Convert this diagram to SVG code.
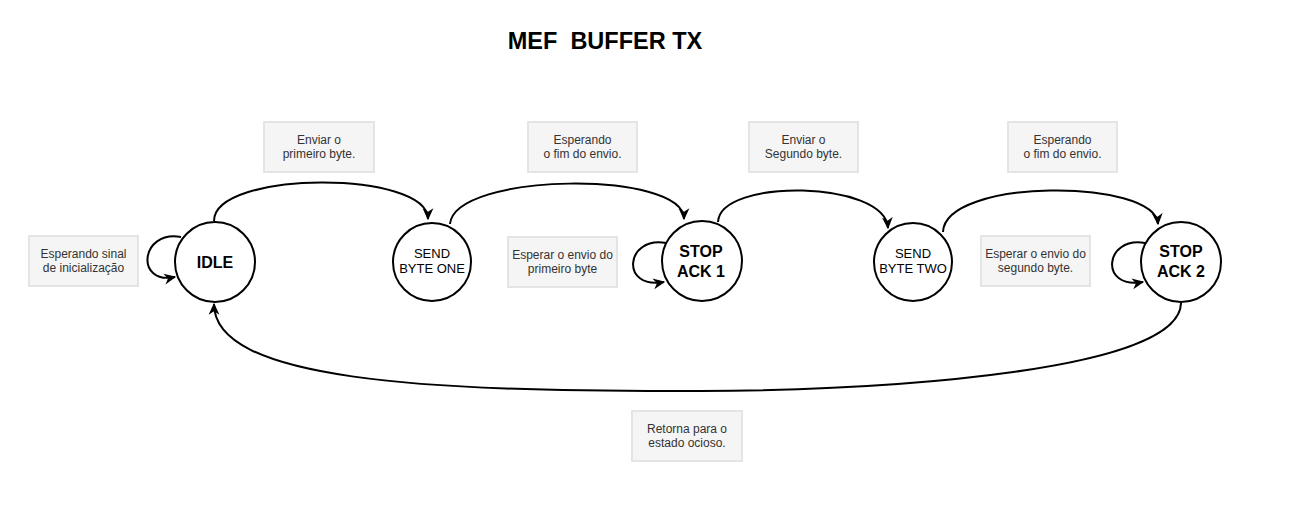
<svg xmlns="http://www.w3.org/2000/svg" width="1294" height="530" viewBox="0 0 1294 530">
  <style>
    .state { fill: #ffffff; stroke: #000000; stroke-width: 2; }
    .lbl { fill: #f5f5f5; stroke: #e4e4e4; stroke-width: 2; }
    .lt { font-family: "Liberation Sans", Arial, sans-serif; font-size: 12px; fill: #333333; text-anchor: middle; }
    .st { font-family: "Liberation Sans", Arial, sans-serif; font-size: 16px; font-weight: bold; fill: #000000; text-anchor: middle; }
    .sn { font-family: "Liberation Sans", Arial, sans-serif; font-size: 13px; fill: #000000; text-anchor: middle; }
    .edge { fill: none; stroke: #000000; stroke-width: 2; marker-end: url(#arr); }
    .title { font-family: "Liberation Sans", Arial, sans-serif; font-size: 23.5px; font-weight: bold; fill: #000000; text-anchor: middle; }
  </style>
  <defs>
    <marker id="arr" viewBox="0 0 10 10" refX="9" refY="5" markerWidth="12" markerHeight="12" markerUnits="userSpaceOnUse" orient="auto">
      <path d="M0,0.5 L10,5 L0,9.5 L3,5 z" fill="#000000"/>
    </marker>
  </defs>
  <rect width="1294" height="530" fill="#ffffff"/>

  <text class="title" x="605" y="49" xml:space="preserve">MEF  BUFFER TX</text>

  <g id="connectors">
    <path class="edge" d="M181,237 C140,230 135,285 175,277"/>
    <path class="edge" d="M214,221 C214,170 428,170 428,219"/>
    <path class="edge" d="M450,224 C455,172 684,170 684,219"/>
    <path class="edge" d="M718,222 C720,178 885,180 888,228"/>
    <path class="edge" d="M943,232 C945,178 1155,178 1158,224"/>
    <path class="edge" d="M666,243 C625,236 620,290 664,282"/>
    <path class="edge" d="M1145,243 C1104,236 1099,290 1143,282"/>
    <path class="edge" d="M1181,303 C1180,370 900,390 700,391 C420,392 214,380 214,304"/>
  </g>

  <g id="idle">
    <circle class="state" cx="215" cy="262" r="40"/>
    <text class="st" x="215" y="268">IDLE</text>
  </g>
  <g id="send-byte-one">
    <circle class="state" cx="432" cy="262" r="39"/>
    <text class="sn" x="432" y="258">SEND</text>
    <text class="sn" x="432" y="273">BYTE ONE</text>
  </g>
  <g id="stop-ack-1">
    <circle class="state" cx="702" cy="261" r="40"/>
    <text class="st" x="701" y="257">STOP</text>
    <text class="st" x="701" y="277">ACK 1</text>
  </g>
  <g id="send-byte-two">
    <circle class="state" cx="913" cy="262" r="39"/>
    <text class="sn" x="913" y="258">SEND</text>
    <text class="sn" x="913" y="273">BYTE TWO</text>
  </g>
  <g id="stop-ack-2">
    <circle class="state" cx="1181" cy="262" r="40"/>
    <text class="st" x="1181" y="257">STOP</text>
    <text class="st" x="1181" y="277">ACK 2</text>
  </g>

  <g id="label-init">
    <rect class="lbl" x="29" y="236" width="109" height="50"/>
    <text class="lt" x="83.5" y="258">Esperando sinal</text>
    <text class="lt" x="83.5" y="272">de inicialização</text>
  </g>
  <g id="label-enviar-1">
    <rect class="lbl" x="264" y="122" width="110" height="50"/>
    <text class="lt" x="319" y="144">Enviar o</text>
    <text class="lt" x="319" y="158">primeiro byte.</text>
  </g>
  <g id="label-esperando-1">
    <rect class="lbl" x="528" y="122" width="109" height="50"/>
    <text class="lt" x="582.5" y="144">Esperando</text>
    <text class="lt" x="582.5" y="158">o fim do envio.</text>
  </g>
  <g id="label-esperar-1">
    <rect class="lbl" x="508" y="237" width="109" height="50"/>
    <text class="lt" x="562.5" y="259">Esperar o envio do</text>
    <text class="lt" x="562.5" y="273">primeiro byte</text>
  </g>
  <g id="label-enviar-2">
    <rect class="lbl" x="749" y="122" width="109" height="50"/>
    <text class="lt" x="803.5" y="144">Enviar o</text>
    <text class="lt" x="803.5" y="158">Segundo byte.</text>
  </g>
  <g id="label-esperando-2">
    <rect class="lbl" x="1008" y="122" width="109" height="50"/>
    <text class="lt" x="1062.5" y="144">Esperando</text>
    <text class="lt" x="1062.5" y="158">o fim do envio.</text>
  </g>
  <g id="label-esperar-2">
    <rect class="lbl" x="981" y="236" width="109" height="50"/>
    <text class="lt" x="1035.5" y="258">Esperar o envio do</text>
    <text class="lt" x="1035.5" y="272">segundo byte.</text>
  </g>
  <g id="label-retorna">
    <rect class="lbl" x="632" y="411" width="110" height="50"/>
    <text class="lt" x="687" y="433">Retorna para o</text>
    <text class="lt" x="687" y="447">estado ocioso.</text>
  </g>
</svg>
